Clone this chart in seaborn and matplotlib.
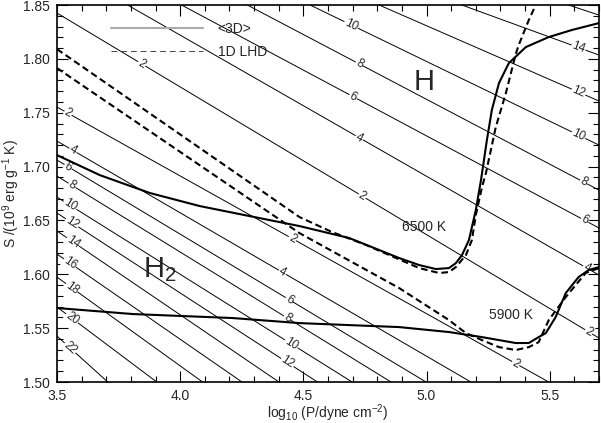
import numpy as np
import pandas as pd
import matplotlib.pyplot as plt
import seaborn as sns
from matplotlib.lines import Line2D
from matplotlib.ticker import MultipleLocator, FormatStrFormatter

# thick curves: <3D> mean (solid) and 1D LHD (dashed) for the two models
x_3d_6500 = [3.500, 3.674, 3.877, 4.079, 4.281, 4.484, 4.686, 4.889, 4.970, 5.038,
             5.091, 5.119, 5.144, 5.172, 5.200, 5.221, 5.245, 5.265, 5.294, 5.334, 5.403,
             5.496, 5.589, 5.700]
s_3d_6500 = [1.7107, 1.6921, 1.6755, 1.6634, 1.6541, 1.6448, 1.6337, 1.6151, 1.6086,
             1.6049, 1.6058, 1.6104, 1.6179, 1.6318, 1.6597, 1.6875, 1.7247, 1.7525, 1.7776,
             1.7961, 1.8110, 1.8203, 1.8268, 1.8333]
x_1d_6500 = [3.500, 4.484, 4.617, 4.755, 4.820, 4.970, 5.051, 5.091, 5.119, 5.160, 5.184,
             5.200, 5.225, 5.241, 5.281, 5.322, 5.362, 5.374, 5.415, 5.443]
s_1d_6500 = [1.8091, 1.6532, 1.6392, 1.6272, 1.6207, 1.6058, 1.6012, 1.6021, 1.6067, 1.6179,
             1.6318, 1.6550, 1.6810, 1.6940, 1.7367, 1.7683, 1.8045, 1.8128, 1.8361, 1.8500]
x_3d_5900 = [3.500, 3.808, 4.213, 4.484, 4.889, 5.091, 5.225, 5.362, 5.415, 5.455, 5.484,
             5.524, 5.565, 5.617, 5.658, 5.700]
s_3d_5900 = [1.5687, 1.5631, 1.5594, 1.5547, 1.5510, 1.5464, 1.5417, 1.5362, 1.5362, 1.5417,
             1.5454, 1.5603, 1.5826, 1.5974, 1.6040, 1.6067]
x_1d_5900 = [3.500, 4.484, 4.889, 5.091, 5.160, 5.225, 5.294, 5.362, 5.415, 5.455, 5.496,
             5.565, 5.646, 5.700]
s_1d_5900 = [1.7915, 1.6383, 1.5872, 1.5575, 1.5454, 1.5389, 1.5324, 1.5297, 1.5324, 1.5370,
             1.5575, 1.5789, 1.6012, 1.6058]

# thin contour lines, H region (upper right): end points
h_levels = [2, 4, 6, 8, 10, 12, 14, 16]
h_x0 = [3.500, 3.787, 4.006, 4.273, 4.528, 4.808, 5.144, 5.577]
h_y0 = [1.8426, 1.85, 1.85, 1.85, 1.85, 1.85, 1.85, 1.85]
h_x1 = [5.7, 5.7, 5.7, 5.7, 5.7, 5.7, 5.7, 5.7]
h_y1 = [1.5408, 1.5993, 1.6430, 1.6782, 1.7200, 1.7609, 1.8036, 1.8407]
h_label_x = {2: [3.844, 4.739, 5.658], 4: [4.727, 5.650], 6: [4.702, 5.642],
             8: [4.727, 5.638], 10: [4.694, 5.617], 12: [5.617], 14: [5.617], 16: []}

# thin contour lines, H2 region (lower left): end points
h2_levels = [2, 4, 6, 8, 10, 12, 14, 16, 18, 20, 22]
h2_x0 = [3.5] * 11
h2_y0 = [1.7553, 1.7237, 1.7061, 1.6912, 1.6717, 1.6569, 1.6402, 1.6188, 1.5974, 1.5696, 1.5427]
h2_x1 = [5.496, 5.180, 4.998, 4.856, 4.698, 4.557, 4.401, 4.251, 4.091, 3.905, 3.706]
h2_y1 = [1.5] * 11
h2_label_x = {2: [3.545, 4.455, 5.362], 4: [3.565, 4.415], 6: [3.545, 4.443],
              8: [3.561, 4.435], 10: [3.553, 4.451], 12: [3.561, 4.435], 14: [3.565],
              16: [3.553], 18: [3.561], 20: [3.561], 22: [3.553]}

sns.set_style('ticks')
plt.rcParams['font.family'] = ['Liberation Sans', 'DejaVu Sans']
plt.rcParams['mathtext.default'] = 'regular'

fig, ax = plt.subplots(figsize=(6.01, 4.23), dpi=100)
fig.subplots_adjust(left=0.0948, right=0.9967, top=0.988, bottom=0.0969)

# build a long table of the contour lines
rows = []
for fam, levs, xa, ya, xb, yb in [('H', h_levels, h_x0, h_y0, h_x1, h_y1),
                                   ('H2', h2_levels, h2_x0, h2_y0, h2_x1, h2_y1)]:
    for lev, x0, y0, x1, y1 in zip(levs, xa, ya, xb, yb):
        rows.append({'line': f'{fam}{lev}', 'x': x0, 'y': y0})
        rows.append({'line': f'{fam}{lev}', 'x': x1, 'y': y1})
iso = pd.DataFrame(rows)
sns.lineplot(data=iso, x='x', y='y', units='line', estimator=None, sort=False,
             color='black', lw=0.7, legend=False, ax=ax, zorder=1)

# contour labels along the lines
for levs, xa, ya, xb, yb, lab in [(h_levels, h_x0, h_y0, h_x1, h_y1, h_label_x),
                                  (h2_levels, h2_x0, h2_y0, h2_x1, h2_y1, h2_label_x)]:
    for lev, x0, y0, x1, y1 in zip(levs, xa, ya, xb, yb):
        ang = np.degrees(np.arctan2(y1 - y0, x1 - x0))
        for lx in lab[lev]:
            ly = np.interp(lx, [x0, x1], [y0, y1])
            ax.text(lx, ly, str(lev), fontsize=8.5, rotation=ang, transform_rotates_text=True,
                    rotation_mode='anchor', ha='center', va='center', zorder=2,
                    bbox=dict(fc='white', ec='none', pad=0.6))

dash = (0, (3.2, 1.8))
sns.lineplot(x=x_3d_6500, y=s_3d_6500, sort=False, estimator=None, color='black', lw=1.5, ax=ax, zorder=3)
sns.lineplot(x=x_1d_6500, y=s_1d_6500, sort=False, estimator=None, color='black', lw=1.5,
             linestyle=dash, ax=ax, zorder=3)
sns.lineplot(x=x_3d_5900, y=s_3d_5900, sort=False, estimator=None, color='black', lw=1.5, ax=ax, zorder=3)
sns.lineplot(x=x_1d_5900, y=s_1d_5900, sort=False, estimator=None, color='black', lw=1.5,
             linestyle=dash, ax=ax, zorder=3)

ax.text(4.990, 1.7785, 'H', fontsize=21, ha='center', va='center')
ax.text(3.917, 1.604, 'H$_2$', fontsize=21, ha='center', va='center')
ax.text(4.990, 1.6439, '6500 K', fontsize=10, ha='center', va='center', zorder=4)
ax.text(5.342, 1.5622, '5900 K', fontsize=10, ha='center', va='center', zorder=4)

handles = [Line2D([], [], color='#aaaaaa', lw=1.5),
           Line2D([], [], color='#444444', lw=0.7, linestyle=(0, (6, 4)))]
ax.legend(handles, ['<3D>', '1D LHD'], loc='upper left', bbox_to_anchor=(0.0996, 0.955),
          frameon=False, fontsize=10, handlelength=6.6, handletextpad=1.08,
          labelspacing=0.65, borderpad=0, borderaxespad=0)

ax.set_xlim(3.5, 5.7)
ax.set_ylim(1.5, 1.85)
ax.xaxis.set_major_locator(MultipleLocator(0.5))
ax.xaxis.set_minor_locator(MultipleLocator(0.1))
ax.yaxis.set_major_locator(MultipleLocator(0.05))
ax.yaxis.set_minor_locator(MultipleLocator(0.01))
ax.xaxis.set_major_formatter(FormatStrFormatter('%.1f'))
ax.yaxis.set_major_formatter(FormatStrFormatter('%.2f'))
ax.tick_params(which='both', direction='in', top=True, right=True, width=0.8, color='black',
               labelsize=10)
ax.tick_params(which='major', length=8)
ax.tick_params(axis='x', which='major', pad=5)
ax.tick_params(axis='y', which='major', pad=5)
ax.tick_params(which='minor', length=4)
for sp in ax.spines.values():
    sp.set_linewidth(1.2)
    sp.set_color('black')

ax.set_xlabel('log$_{10}$ (P/dyne cm$^{-2}$)', fontsize=10)
ax.set_ylabel('S /(10$^9$ erg g$^{-1}$ K)', fontsize=10)
ax.xaxis.set_label_coords(0.5, -0.053)
ax.yaxis.set_label_coords(-0.064, 0.5)

fig.savefig('out.png', dpi=100)
